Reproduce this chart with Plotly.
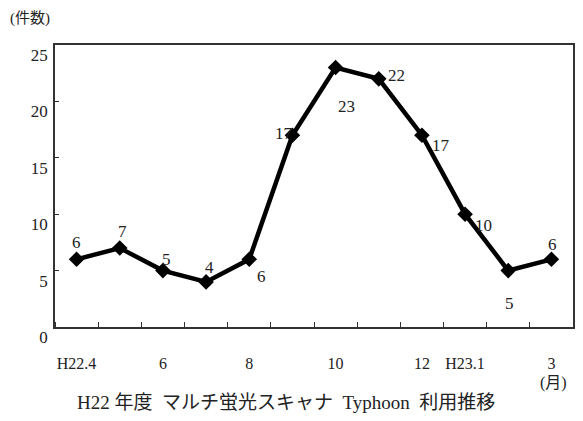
import plotly.graph_objects as go

# Monthly usage counts, FY H22 (April H22 .. March H23)
months = ["H22.4", "5", "6", "7", "8", "9", "10", "11", "12", "H23.1", "2", "3"]
counts = [6, 7, 5, 4, 6, 17, 23, 22, 17, 10, 5, 6]

# Month labels shown under the axis (index into months -> text)
x_label_idx = [0, 2, 4, 6, 8, 9, 11]
x_label_text = ["H22.4", "6", "8", "10", "12", "H23.1", "3"]

y_ticks = [0, 5, 10, 15, 20, 25]

# Pixel offsets of each value label relative to its marker
label_dx = [0, 3, 4, 3, 12, -8, 11, 18, 19, 18, 1, 1]
label_dy = [17, 17, 11, 14, -17, 2, -39, 3, -10, -11, -33, 15]

FONT = "Liberation Serif, Noto Sans CJK JP, serif"
x_idx = list(range(len(months)))

fig = go.Figure()
fig.add_trace(go.Scatter(
    x=x_idx, y=counts, mode="lines+markers",
    line=dict(color="black", width=4.5),
    marker=dict(symbol="diamond", size=12, color="black"),
    hoverinfo="skip", showlegend=False,
))

for i, v in enumerate(counts):
    fig.add_annotation(
        x=i, y=v, text=str(v), showarrow=False,
        xshift=label_dx[i], yshift=label_dy[i],
        font=dict(family=FONT, size=17, color="#222"),
    )

fig.update_xaxes(
    range=[-0.5, len(months) - 0.5],
    tickmode="array", tickvals=x_label_idx, ticktext=x_label_text,
    ticks="", ticklabelstandoff=21,
    minor=dict(tickmode="linear", tick0=0.5, dtick=1, ticks="inside",
               ticklen=5, tickcolor="#333", tickwidth=1),
    showline=True, linecolor="#333", linewidth=1.5, mirror=True,
    showgrid=False, zeroline=False,
    tickfont=dict(family=FONT, size=16, color="#222"),
)
fig.update_yaxes(
    range=[0, 25], tickmode="array", tickvals=y_ticks,
    ticks="inside", ticklen=4, tickcolor="#333",
    ticklabelshift=10, ticklabelstandoff=2,
    showline=True, linecolor="#333", linewidth=1.5, mirror=True,
    showgrid=False, zeroline=False,
    tickfont=dict(family=FONT, size=17, color="#222"),
)

fig.add_annotation(
    text="(件数)", xref="paper", yref="paper",
    x=(30 - 55) / 520, y=(327 - 19) / 282, showarrow=False,
    xanchor="center", yanchor="middle",
    font=dict(family=FONT, size=15, color="#222"),
)
fig.add_annotation(
    text="(月)", xref="paper", yref="paper",
    x=(555 - 55) / 520, y=(327 - 383) / 282, showarrow=False,
    xanchor="center", yanchor="middle",
    font=dict(family=FONT, size=16, color="#222"),
)
fig.add_annotation(
    text="H22 年度  マルチ蛍光スキャナ  Typhoon  利用推移",
    xref="paper", yref="paper",
    x=(287 - 55) / 520, y=(327 - 402) / 282, showarrow=False,
    xanchor="center", yanchor="middle",
    font=dict(family=FONT, size=19, color="#222"),
)

fig.update_layout(
    width=583, height=421,
    margin=dict(l=55, r=8, t=45, b=94),
    paper_bgcolor="white", plot_bgcolor="white",
)

fig.write_html("out.html")
